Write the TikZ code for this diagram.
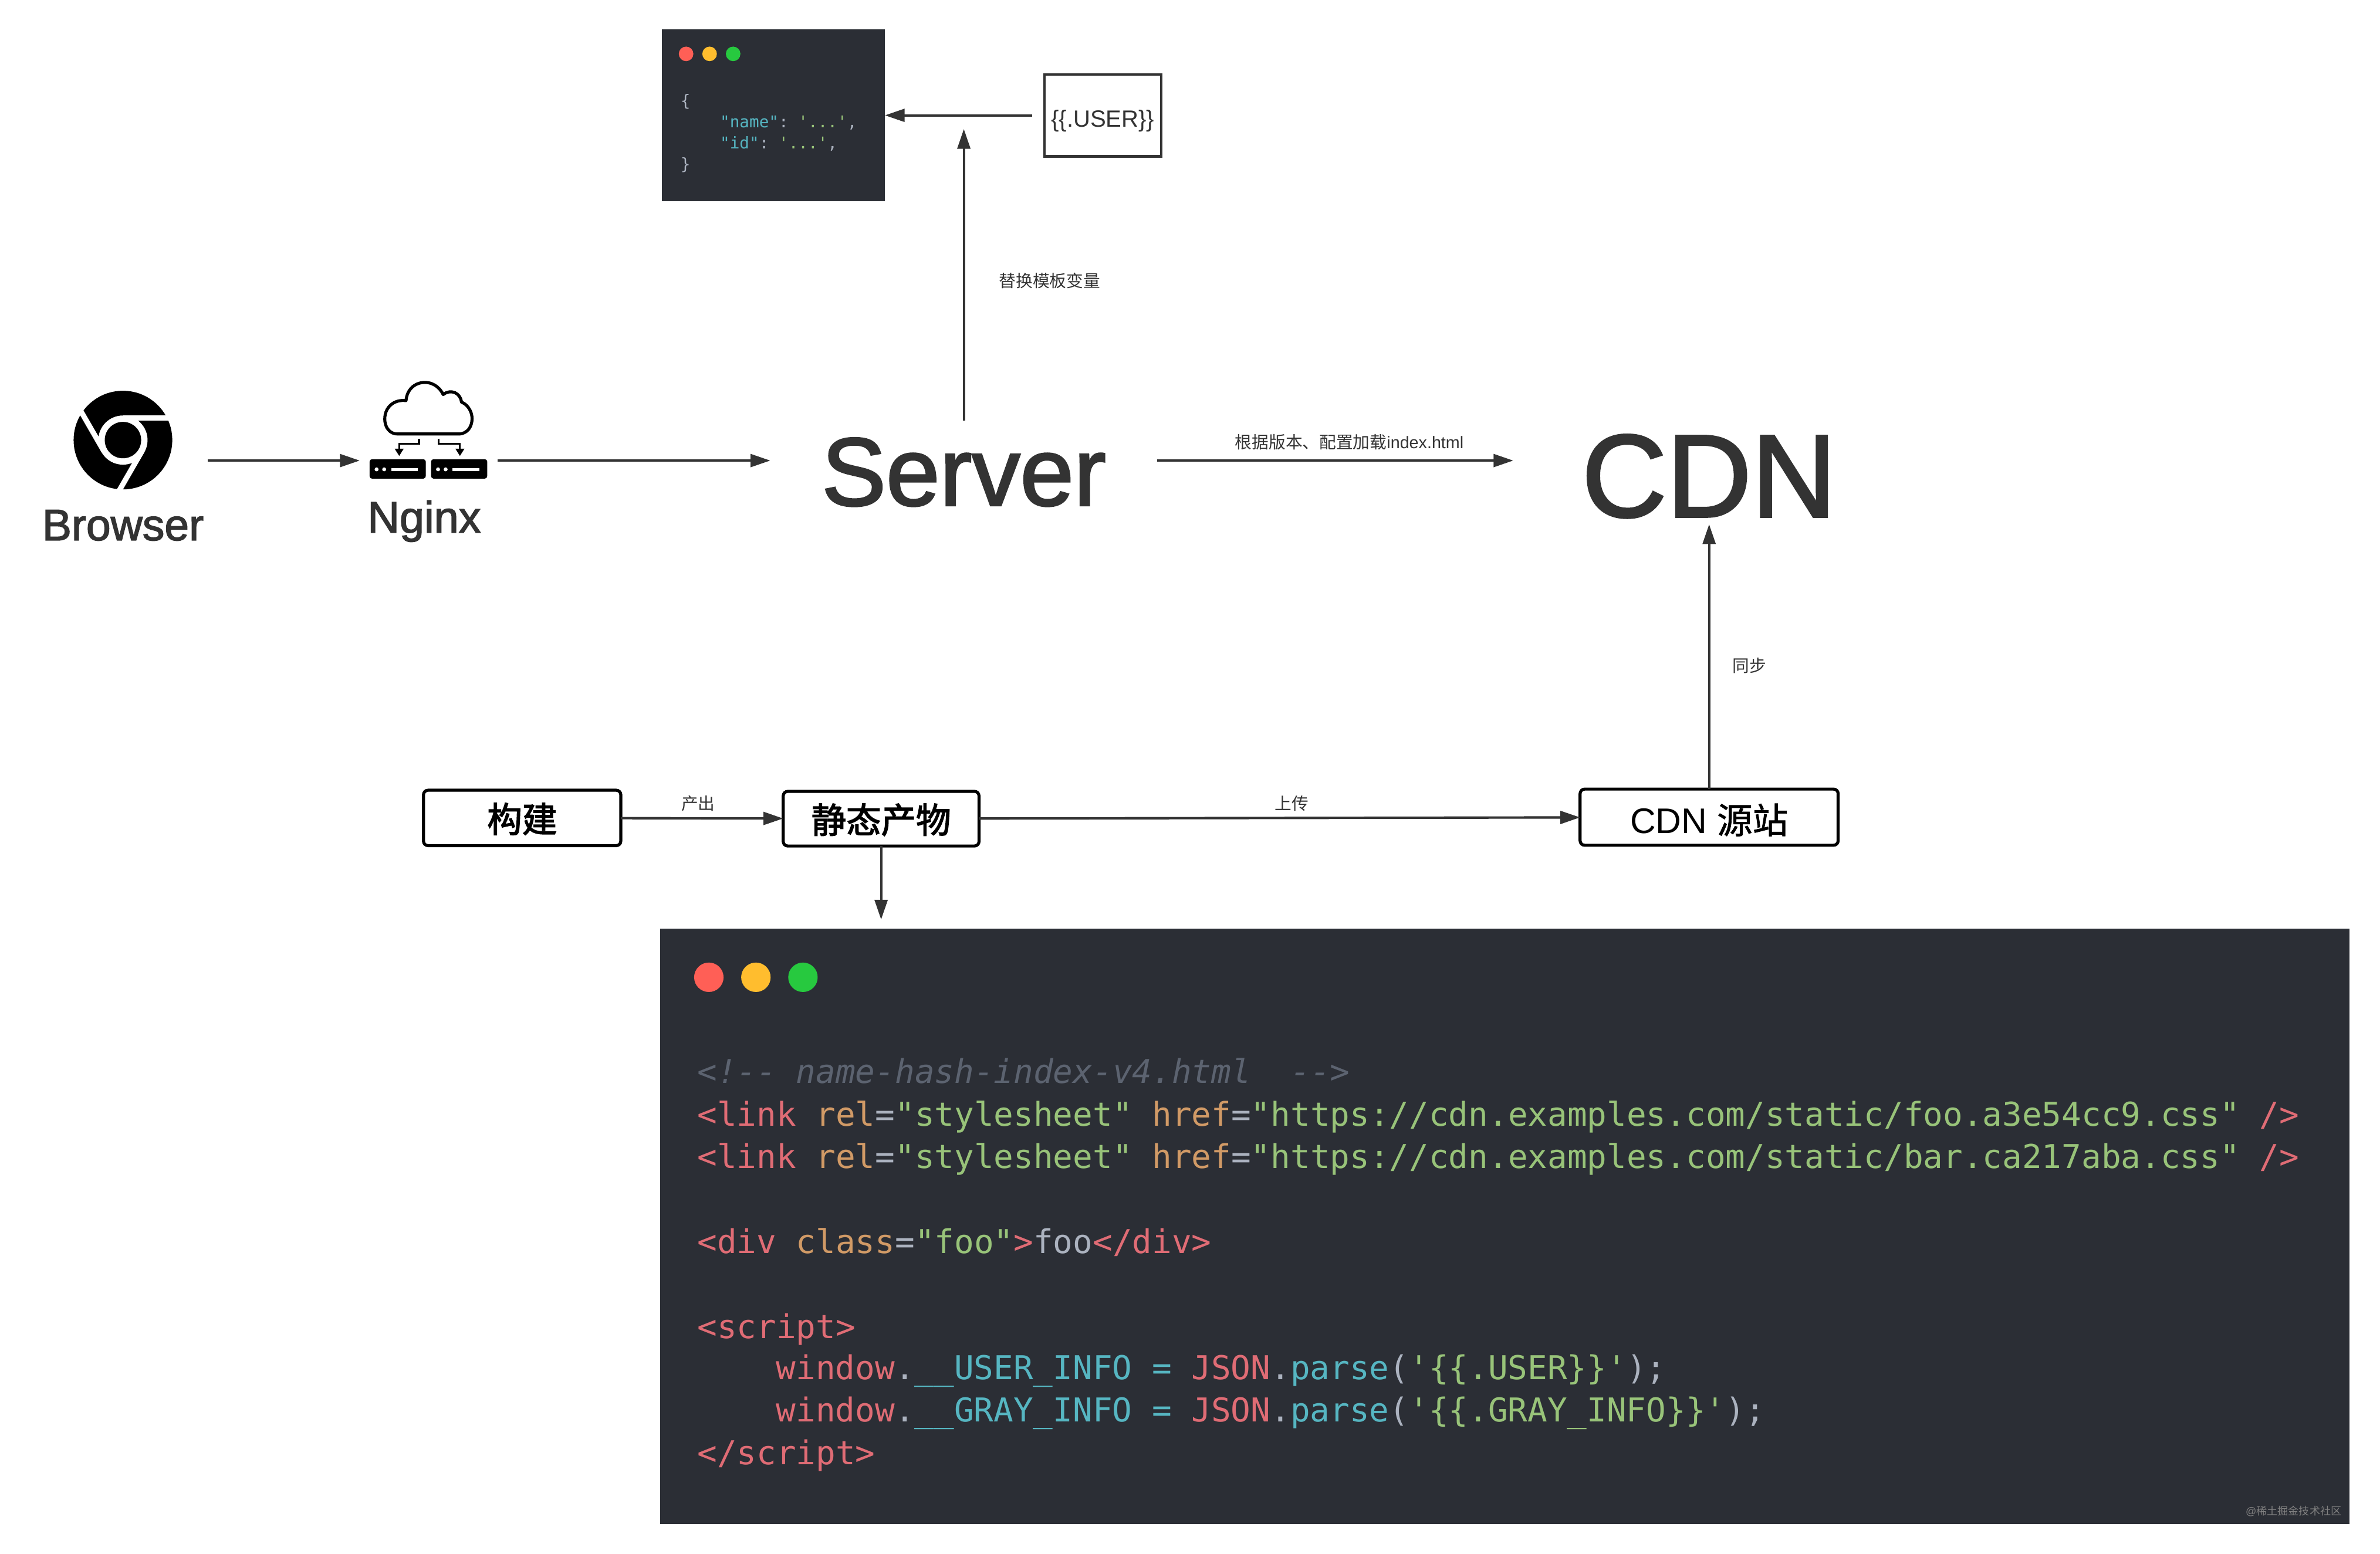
\documentclass[tikz,border=0pt]{standalone}
\usepackage{fontspec}
\setmainfont{Liberation Sans}
\setmonofont{DejaVu Sans Mono}
\newfontfamily\cjk{Noto Sans CJK SC}
\newfontfamily\cjkheavy[FakeBold=2.5]{Noto Sans CJK SC}
\newfontfamily\cjkmid[FakeBold=1.2]{Noto Sans CJK SC}
\newfontfamily\sansheavy[FakeBold=2]{Liberation Sans}
\usetikzlibrary{arrows.meta}
\definecolor{ink}{HTML}{333333}
\definecolor{winbg}{HTML}{2B2E35}
\definecolor{dotred}{HTML}{FF5F56}
\definecolor{dotyellow}{HTML}{FFBD2E}
\definecolor{dotgreen}{HTML}{27C93F}
\definecolor{codered}{HTML}{E06C75}
\definecolor{codeorange}{HTML}{D19A66}
\definecolor{codegreen}{HTML}{98C379}
\definecolor{codecyan}{HTML}{56B6C2}
\definecolor{codegrey}{HTML}{ABB2BF}
\definecolor{codenote}{HTML}{5C6370}
\newcommand{\cred}[1]{\textcolor{codered}{#1}}
\newcommand{\corange}[1]{\textcolor{codeorange}{#1}}
\newcommand{\cgreen}[1]{\textcolor{codegreen}{#1}}
\newcommand{\ccyan}[1]{\textcolor{codecyan}{#1}}

\begin{document}
\begin{tikzpicture}[x=0.5pt,y=-0.5pt]
\tikzset{edge/.style = {->,> = {Triangle[length=6.5pt,width=4.2pt]},draw=ink,fill=ink,line width=0.8pt}}
\tikzset{frame/.style = {inner sep=0pt,outer sep=0pt,text depth=0pt,text=ink}}
\tikzset{flowbox/.style = {shape=rectangle,draw=black,line width=1pt,rounded corners=1.5pt,inner sep=0pt,outer sep=0pt,text=black,text height=10.4pt,text depth=1pt,font=\fontsize{11.5}{14}\selectfont}}
\tikzset{note/.style = {inner sep=0pt,text=ink,font=\fontsize{5.55}{7}\selectfont}}
\tikzset{codewin/.style = {shape=rectangle,fill=winbg,inner sep=0pt,outer sep=0pt}}
\tikzset{codeline/.style = {anchor=base west,inner sep=0pt,text=codegrey,font=\ttfamily\fontsize{10.82}{13}\selectfont}}
\tikzset{jsonline/.style = {anchor=base west,inner sep=0pt,text=codegrey,font=\ttfamily\fontsize{5.35}{7}\selectfont}}
\useasboundingbox (0,0) rectangle (1568,1024);
% top row
\node[frame,minimum width=56pt,text height=52.5pt,font=\fontsize{14.5}{17}\selectfont] (browser) at (81,303.5) {\sansheavy Browser};
\node[frame,minimum width=42.5pt,text height=47.5pt,font=\fontsize{14.6}{17}\selectfont] (nginx) at (279.5,303.5) {\sansheavy Nginx};
\node[frame,minimum width=127.5pt,text height=29.5pt,font=\fontsize{31.8}{36}\selectfont] (server) at (635,303.5) {\sansheavy Server};
\node[frame,minimum width=129pt,text height=37pt,font=\fontsize{38.7}{44}\selectfont] (cdn) at (1126,303.5) {\sansheavy CDN\hspace{2.5pt}};
% template
\node[codewin,minimum width=73.5pt,minimum height=56.5pt] (jsonwin) at (509.5,76) {};
\node[draw=ink,line width=0.8pt,inner sep=0pt,outer sep=0pt,minimum width=38.5pt,minimum height=27pt,text=ink,text height=8.5pt,text depth=1pt,font=\fontsize{7.75}{9}\selectfont] (userbox) at (726.5,76) {\{\{.USER\}\}};
\coordinate (tplin) at (635,85);
% build row
\node[flowbox,minimum width=65pt,minimum height=18.25pt] (build) at (344,539) {\cjkheavy 构建};
\node[flowbox,minimum width=64.5pt,minimum height=18pt] (artifact) at (580.5,539.5) {\cjkheavy 静态产物};
\node[flowbox,minimum width=85pt,minimum height=18.5pt,text height=11.7pt,font=\fontsize{11.7}{14}\selectfont] (cdnsrc) at (1126,538.5) {CDN\ {\cjkmid 源站}};
\node[codewin,minimum width=556.5pt,minimum height=196.25pt] (htmlwin) at (991.5,808.25) {};
% edge labels
\node[note] (notetpl) at (691.5,185) {\cjk 替换模板变量};
\node[note] (noteload) at (889,291.5) {{\cjk 根据版本、配置加载}index.html};
\node[note] (notesync) at (1152.5,438.5) {\cjk 同步};
\node[note] (noteout) at (460,529.5) {\cjk 产出};
\node[note] (noteup) at (851,529.5) {\cjk 上传};
% edges
\draw[edge] (browser) to (nginx);
\draw[edge,shorten <=3pt] (nginx) to (server);
\draw[edge] (server) to (cdn);
\draw[edge,shorten <=-1.5pt] (server) to (tplin);
\draw[edge,shorten <=4pt] (userbox) to (jsonwin);
\draw[edge] (build) to (artifact);
\draw[edge] (artifact) to (cdnsrc);
\draw[edge,shorten >=2.5pt] (cdnsrc) to (cdn);
\draw[edge,shorten >=3pt] (artifact.south) to (artifact |- htmlwin.north);
% chrome icon
\fill[black] (81,290) circle (16.25pt);
\fill[white] (81,290) circle (8.1pt);
\fill[black] (81,290) circle (6pt);
\foreach \a in {0,120,240}
  \draw[white,line width=1.75pt,shift={(81,290)},rotate=\a] (0,-14.5) -- (36,-14.5);
% nginx icon
\draw[black,line width=1pt,line join=round] (262,286) -- (302,286) .. controls (308,286) and (311,281) .. (311,276) .. controls (311,270) and (307,266) .. (304,265) .. controls (303.5,259) and (297,256) .. (292,260) .. controls (289,254) and (284,252) .. (280,252) .. controls (273,252) and (268,257) .. (267.5,264) .. controls (260,263) and (253.5,268) .. (253.5,276) .. controls (253.5,282) and (257,286) .. (262,286) -- cycle;
\draw[black,line width=0.6pt,-{Triangle[length=2.4pt,width=2.8pt]}] (276,289) -- (276,292.5) -- (263,292.5) -- (263,300.5);
\draw[black,line width=0.6pt,-{Triangle[length=2.4pt,width=2.8pt]}] (289,289) -- (289,292.5) -- (303,292.5) -- (303,300.5);
\foreach \x in {243.5,284} {
  \fill[black,rounded corners=0.8pt] (\x,302.6) rectangle ++(37,12.8);
  \fill[white] (\x+4.6,309.3) circle (0.65pt);
  \fill[white] (\x+9.6,309.3) circle (0.65pt);
  \fill[white] (\x+14.2,308.3) rectangle ++(17.6,2);
}
% window dots
\foreach \x/\c in {452/dotred,467.5/dotyellow,483/dotgreen}
  \fill[\c] (\x,35.5) circle (2.4pt);
\foreach \x/\c in {467/dotred,498/dotyellow,529/dotgreen}
  \fill[\c] (\x,644) circle (4.85pt);
% small window text
\node[jsonline] (json1) at (448,70) {\{};
\node[jsonline] (json2) at (474,84) {\ccyan{"name"}: \cgreen{'...'},};
\node[jsonline] (json3) at (474,98) {\ccyan{"id"}: \cgreen{'...'},};
\node[jsonline] (json4) at (448,112) {\}};
% big window text
\node[codeline,text=codenote] (html1) at (459,714) {\itshape <!-- name-hash-index-v4.html\ \ -->};
\node[codeline] (html2) at (459,742) {\cred{<link} \corange{rel}=\cgreen{"stylesheet"} \corange{href}=\cgreen{"https://cdn.examples.com/static/foo.a3e54cc9.css"} \cred{/>}};
\node[codeline] (html3) at (459,770) {\cred{<link} \corange{rel}=\cgreen{"stylesheet"} \corange{href}=\cgreen{"https://cdn.examples.com/static/bar.ca217aba.css"} \cred{/>}};
\node[codeline] (html4) at (459,826) {\cred{<div} \corange{class}=\cgreen{"foo"}\cred{>}foo\cred{</div>}};
\node[codeline] (html5) at (459,882) {\cred{<script>}};
\node[codeline] (html6) at (511,909) {\cred{window}.\ccyan{\_\_USER\_INFO = }\cred{JSON}.\ccyan{parse}(\cgreen{'\{\{.USER\}\}'});};
\node[codeline] (html7) at (511,937) {\cred{window}.\ccyan{\_\_GRAY\_INFO = }\cred{JSON}.\ccyan{parse}(\cgreen{'\{\{.GRAY\_INFO\}\}'});};
\node[codeline] (html8) at (459,965) {\cred{</script>}};
\node[inner sep=0pt,anchor=east,text=gray,font=\fontsize{3.5}{4}\selectfont] (mark) at (1543,996) {@{\cjk 稀土掘金技术社区}};
\end{tikzpicture}
\end{document}
